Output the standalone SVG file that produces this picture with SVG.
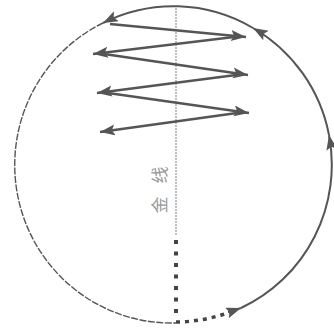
<svg xmlns="http://www.w3.org/2000/svg" width="334" height="331" viewBox="0 0 334 331">
<style>
.solid{fill:none;stroke:#555;stroke-width:2}
.thin{fill:none;stroke:#555;stroke-width:1.4;stroke-dasharray:7,1.5}
.zig{fill:none;stroke:#555;stroke-width:2.4}
.lbl{font-family:"Noto Sans CJK SC","Noto Sans CJK JP",sans-serif;font-size:17px;fill:#999}
</style>
<defs>
<marker id="ah" markerUnits="userSpaceOnUse" markerWidth="18" markerHeight="14" refX="15" refY="5.5" orient="auto">
<path d="M0,0 L15,5.5 L0,11 L3,5.5 z" fill="#555"/>
</marker>
</defs>
<rect width="334" height="331" fill="#fff"/>
<g id="axis">
<line x1="176" y1="8" x2="176" y2="236" stroke="#aaa" stroke-width="1.5" stroke-dasharray="2,1"/>
<line x1="176" y1="240" x2="176" y2="318" stroke="#444" stroke-width="4" stroke-dasharray="4,7.5"/>
</g>
<g id="label">
<text class="lbl" x="160" y="181" text-anchor="middle" transform="rotate(-90 160 175)">线</text>
<text class="lbl" x="160" y="211" text-anchor="middle" transform="rotate(-90 160 205)">金</text>
</g>
<g id="circle">
<path class="thin" d="M103,23 A157,158 0 0 0 176,323"/>
<path d="M176,322 A157,158 0 0 0 230,312" fill="none" stroke="#444" stroke-width="3.5" stroke-dasharray="4,5"/>
<path class="solid" d="M228,312 A157,158 0 0 0 241,308" marker-end="url(#ah)"/>
<path class="solid" d="M241,308 A157,158 0 0 0 329,135" marker-end="url(#ah)"/>
<path class="solid" d="M329,135 A157,158 0 0 0 253,28" marker-end="url(#ah)"/>
<path class="solid" d="M253,28 A157,158 0 0 0 103,23" marker-end="url(#ah)"/>
</g>
<g id="connectors">
<line class="zig" x1="110" y1="24" x2="246" y2="37" marker-end="url(#ah)"/>
<line class="zig" x1="234" y1="37" x2="93" y2="54" marker-end="url(#ah)"/>
<line class="zig" x1="104" y1="54" x2="248" y2="75" marker-end="url(#ah)"/>
<line class="zig" x1="236" y1="75" x2="97" y2="93" marker-end="url(#ah)"/>
<line class="zig" x1="108" y1="93" x2="249" y2="113" marker-end="url(#ah)"/>
<line class="zig" x1="237" y1="113" x2="100" y2="132" marker-end="url(#ah)"/>
</g>
</svg>
